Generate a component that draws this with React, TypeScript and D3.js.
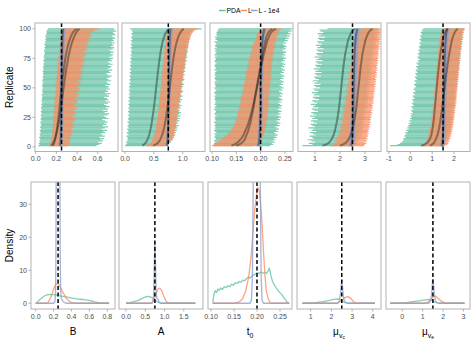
import React from 'react';
import * as d3 from 'd3';

const W = 474, H = 355;
const FONT = '"Liberation Sans", Arial, Helvetica, sans-serif';
const COL_PDA = '#66c2a5', COL_L = '#fc8d62', COL_L4 = '#8da0cb';
const METHODS = ['PDA', 'L', 'L - 1e4'];
const TRUTH = [0.25, 0.75, 0.2, 2.5, 1.5];

// ---------- Top row: per-replicate intervals (lo / median / hi), sorted by median ----------
// B (x1000)
const B_PDA_LO = [25,38,30,42,35,45,40,33,48,41,37,50,44,39,53,46,42,55,48,51,43,57,50,46,58,52,47,60,54,49,62,55,51,57,64,53,59,66,55,61,57,68,62,58,65,70,60,67,63,72,64,59,70,66,74,61,68,75,65,71,77,69,73,66,79,72,76,70,81,74,78,84,73,80,87,76,82,79,89,83,86,80,91,85,94,88,83,96,90,99,93,102,97,91,105,100,108,103,112,120];
const B_PDA_MED = [150,158,165,172,178,182,186,190,194,197,200,203,206,208,211,213,215,218,220,222,224,226,228,229,231,233,235,236,238,240,241,243,245,246,248,249,251,252,254,255,257,258,260,261,263,264,266,267,269,270,272,273,275,276,278,279,281,283,284,286,288,289,291,293,294,296,298,300,302,304,306,308,310,312,314,316,318,321,323,326,328,331,334,337,340,343,346,350,354,358,362,366,371,376,381,387,394,402,411,425];
const B_PDA_HI = [590,615,640,605,652,628,660,618,670,645,632,675,655,690,640,668,700,650,685,662,695,672,645,705,680,658,690,710,668,695,650,700,678,715,685,662,698,720,675,705,688,660,712,690,725,670,700,682,718,695,708,675,722,698,685,730,705,690,715,735,700,685,725,710,740,695,718,732,705,745,720,700,738,725,750,712,735,748,722,755,730,715,745,760,728,752,740,765,735,758,745,770,752,738,775,760,748,780,765,760];
const B_L_LO = [128,140,135,148,142,150,146,155,150,158,154,162,157,165,160,168,163,158,170,165,172,167,175,169,164,178,172,180,174,169,183,176,186,179,174,189,182,177,191,185,180,194,187,196,190,184,198,192,201,195,188,203,197,191,206,199,209,202,196,211,205,214,208,200,216,210,219,212,222,215,208,224,218,227,221,214,230,224,233,226,220,236,229,239,232,226,242,236,246,239,233,249,243,253,246,240,256,250,262,270];
const B_L_MED = [165,172,177,181,184,187,190,192,194,196,198,200,202,204,205,207,208,210,211,213,214,215,217,218,219,221,222,223,224,226,227,228,229,230,232,233,234,235,236,238,239,240,241,243,244,245,246,248,249,250,251,253,254,255,257,258,259,261,262,263,265,266,268,269,271,272,274,275,277,279,280,282,284,286,287,289,291,293,295,298,300,302,305,307,310,313,316,319,322,326,330,334,338,343,348,354,361,369,380,400];
const B_L_HI = [305,325,315,335,320,340,328,345,332,350,338,355,342,362,348,335,368,352,372,358,345,378,362,382,366,352,388,370,392,375,360,398,380,402,385,370,408,390,412,395,380,418,400,422,405,388,428,410,432,415,398,438,420,442,425,408,448,430,452,435,418,458,440,462,445,428,468,450,472,455,438,478,460,482,465,448,488,470,492,475,458,498,480,505,488,470,512,495,520,502,485,528,510,538,518,545,530,560,580,620];
const B_L4_LO = [220,221,222,224,223,225,224,226,225,227,226,227,228,226,228,227,229,228,227,229,228,230,229,228,230,229,231,230,229,231,230,232,231,230,232,231,233,232,231,233,232,231,233,232,234,232,233,231,234,233,232,234,233,235,233,232,234,236,234,233,235,234,236,233,235,237,234,236,235,234,237,236,235,238,236,237,239,236,238,240,238,237,240,239,241,238,242,240,241,243,241,244,242,245,243,246,245,247,249,251];
const B_L4_MED = [236,238,239,240,241,242,242,243,243,244,244,244,245,245,245,245,246,246,246,246,246,247,247,247,247,247,247,248,248,248,248,248,248,248,249,249,249,249,249,249,249,250,250,250,250,250,250,250,250,251,251,251,251,251,251,251,251,252,252,252,252,252,252,252,253,253,253,253,253,253,254,254,254,254,254,255,255,255,255,256,256,256,256,257,257,257,258,258,258,259,259,260,260,261,261,262,263,264,265,267];
const B_L4_HI = [255,258,257,260,259,261,260,262,261,263,262,264,263,265,263,264,266,265,264,267,266,265,267,268,266,269,267,268,270,268,267,269,270,268,271,269,270,272,270,269,271,272,270,273,271,270,272,274,272,271,273,272,274,272,273,275,273,272,274,276,274,273,275,277,274,276,275,277,276,274,277,276,278,275,277,279,276,278,280,277,279,278,281,279,280,282,279,281,283,280,282,284,281,285,283,286,285,288,290,293];

// A (x1000)
const A_PDA_LO = [0,20,35,15,48,30,55,40,25,60,45,32,65,50,38,70,55,42,68,58,45,72,60,48,75,63,50,78,66,53,80,68,56,82,70,58,85,72,60,88,75,62,90,78,65,92,80,68,95,82,70,97,84,72,100,87,75,102,90,78,105,92,80,108,95,83,110,98,86,112,100,88,115,103,91,118,106,94,120,108,96,122,110,98,125,112,100,128,115,103,130,118,106,133,121,109,136,124,112,90];
const A_PDA_MED = [300,330,350,365,378,388,396,404,411,417,423,428,433,438,442,446,450,454,458,461,465,468,471,474,477,480,483,486,489,492,494,497,500,502,505,507,510,512,514,517,519,521,524,526,528,531,533,535,537,540,542,544,546,549,551,553,555,558,560,562,565,567,569,572,574,577,579,582,584,587,589,592,595,598,600,603,606,609,612,615,619,622,626,630,634,638,642,647,652,657,663,669,676,683,691,700,711,724,740,765];
const A_PDA_HI = [700,760,730,800,770,830,790,850,810,870,840,880,820,900,860,910,880,930,870,920,890,945,905,950,880,960,915,940,970,925,950,900,965,935,980,945,920,975,955,990,930,960,1000,970,945,985,1010,960,990,975,1005,980,1020,995,965,1010,1030,985,1015,1000,1035,990,1020,1045,1005,1030,1050,1015,1040,1060,1025,1050,1070,1035,1060,1080,1045,1070,1055,1090,1065,1085,1050,1095,1075,1100,1060,1090,1110,1080,1105,1120,1090,1130,1110,1150,1125,1170,1200,1330];
const A_L_LO = [370,400,430,450,465,475,490,485,500,510,505,520,515,530,525,540,535,545,540,555,550,545,560,555,570,565,560,575,570,585,580,575,590,585,580,595,590,600,595,590,605,600,610,605,600,615,610,620,615,610,625,620,630,625,620,635,630,640,635,630,645,640,650,645,640,655,650,660,655,650,665,660,670,665,660,675,670,680,675,670,685,680,690,685,695,690,700,695,705,700,710,705,720,715,730,725,740,735,750,760];
const A_L_MED = [490,530,560,580,596,608,618,627,635,642,649,655,661,666,671,676,680,684,688,692,696,700,703,707,710,713,716,719,722,725,728,731,734,736,739,742,744,747,749,752,754,757,759,762,764,766,769,771,773,776,778,780,783,785,787,790,792,794,797,799,802,804,807,809,812,814,817,820,822,825,828,831,834,837,840,843,846,849,853,856,860,864,868,872,876,881,886,891,896,902,908,915,922,930,939,949,961,975,992,1020];
const A_L_HI = [700,740,760,780,800,815,830,825,845,855,850,865,860,875,870,885,880,890,885,900,895,890,905,900,915,910,905,920,915,930,925,920,935,930,925,940,935,950,945,940,955,950,965,960,955,970,965,980,975,970,985,980,995,990,985,1000,995,1010,1005,1000,1015,1010,1025,1020,1015,1030,1025,1040,1035,1030,1045,1040,1055,1050,1045,1060,1055,1070,1065,1060,1075,1070,1085,1080,1095,1090,1105,1100,1115,1110,1125,1120,1140,1135,1155,1150,1175,1190,1220,1260];
const A_L4_LO = [695,700,706,708,712,711,715,713,718,716,720,717,722,719,724,721,723,726,722,727,725,728,724,729,727,725,730,728,726,731,729,727,732,730,728,733,731,729,734,732,730,735,733,731,736,734,732,737,735,733,738,736,734,739,737,735,740,738,736,741,739,737,742,740,738,743,741,739,744,742,740,745,743,741,746,744,742,747,745,743,748,746,744,749,747,745,750,748,746,751,749,753,751,755,753,757,759,758,762,765];
const A_L4_MED = [722,728,732,735,737,739,740,741,742,743,744,745,746,746,747,747,748,748,749,749,750,750,750,751,751,751,752,752,752,753,753,753,754,754,754,754,755,755,755,756,756,756,756,757,757,757,757,758,758,758,758,759,759,759,759,760,760,760,760,761,761,761,762,762,762,762,763,763,763,764,764,764,765,765,765,766,766,767,767,767,768,768,769,769,770,770,771,772,772,773,774,775,776,777,778,780,782,784,787,792];
const A_L4_HI = [750,756,758,762,760,765,763,767,765,769,767,771,769,773,771,769,774,772,776,774,772,777,775,779,777,775,780,778,782,780,778,783,781,785,783,781,786,784,788,786,784,789,787,791,789,787,792,790,794,792,790,795,793,797,795,793,798,796,800,798,796,801,799,803,801,799,804,802,806,804,802,807,805,809,807,805,810,808,812,810,808,813,811,815,813,811,816,814,818,816,814,820,818,823,821,826,824,830,833,840];

// t0 (x1000)
const T_PDA_LO = [104,106,105,107,104,106,108,105,106,107,105,109,106,104,107,106,108,105,107,106,104,108,106,107,105,109,106,105,107,108,106,104,107,106,109,105,107,106,108,105,106,107,105,108,106,104,107,109,106,105,108,106,107,105,106,109,107,105,106,108,105,107,106,109,105,107,108,106,105,107,109,106,105,108,107,106,110,105,107,109,106,108,105,110,107,106,109,108,105,111,107,109,106,111,108,110,109,112,111,114];
const T_PDA_MED = [150,156,160,163,165,167,168,169,170,171,172,173,174,175,175,176,177,177,178,179,179,180,180,181,181,182,182,183,183,184,184,185,185,186,186,186,187,187,188,188,188,189,189,190,190,190,191,191,192,192,192,193,193,194,194,194,195,195,196,196,197,197,197,198,198,199,199,200,200,201,201,201,202,202,203,203,203,204,204,205,205,206,206,207,207,208,208,209,209,210,211,211,212,213,214,215,216,218,220,224];
const T_PDA_HI = [220,226,223,229,225,231,227,233,229,235,231,228,236,232,238,234,230,239,235,241,237,233,240,236,242,238,234,241,237,243,239,235,242,238,244,240,236,243,239,245,241,237,244,240,246,242,238,245,241,247,243,239,246,242,248,244,240,247,243,249,245,241,248,244,250,246,242,249,245,251,247,243,250,246,252,248,244,251,247,253,249,245,252,248,254,250,246,253,249,256,251,258,253,260,255,262,257,264,260,266];
const T_L_LO = [100,103,104,111,114,119,121,126,127,131,132,136,136,140,139,143,143,146,145,148,147,150,149,152,150,153,152,154,153,156,154,157,155,158,156,159,157,160,158,161,159,162,160,163,161,164,162,165,163,166,164,167,165,168,166,169,167,170,168,171,169,172,170,173,171,174,172,175,173,176,174,177,175,178,176,179,177,180,179,181,180,183,181,184,183,186,184,187,186,189,188,191,190,193,192,195,194,198,198,203];
const T_L_MED = [140,146,150,153,156,158,160,162,163,165,166,167,168,169,170,171,172,173,174,175,175,176,177,178,178,179,180,180,181,182,182,183,183,184,185,185,186,186,187,187,188,188,189,189,190,190,191,191,192,192,193,193,194,194,195,195,196,196,197,197,198,198,199,199,200,200,201,201,202,202,203,203,204,204,205,205,206,206,207,208,208,209,209,210,211,211,212,213,213,214,215,216,217,218,219,220,222,224,227,232];
const T_L_HI = [186,193,194,199,199,202,202,205,204,207,206,208,207,210,208,211,209,212,210,213,211,213,212,214,212,215,213,215,213,216,214,216,214,217,215,217,215,217,216,218,216,218,216,219,217,219,217,219,218,220,218,220,218,221,219,221,219,221,220,222,220,222,220,223,221,223,221,224,222,224,222,225,223,225,224,226,224,227,225,227,226,228,227,229,228,230,229,231,230,232,231,233,232,235,234,237,236,239,239,243];
const T_L4_LO = [191,192,193,193,194,193,194,194,195,194,195,194,195,195,195,196,195,196,195,196,196,195,196,196,195,196,196,197,196,196,197,196,197,196,197,196,197,196,197,197,196,197,196,197,197,196,197,196,197,197,196,197,196,197,197,196,198,197,198,197,198,197,198,197,198,197,198,197,198,198,197,198,199,198,199,198,199,198,199,198,199,198,200,199,200,199,200,199,201,200,201,200,202,201,202,203,202,204,203,205];
const T_L4_MED = [195,196,196,197,197,197,197,198,198,198,198,198,198,198,199,199,199,199,199,199,199,199,199,199,199,199,200,200,200,200,200,200,200,200,200,200,200,200,200,200,200,200,200,200,200,200,200,200,200,200,200,200,200,200,200,200,201,201,201,201,201,201,201,201,201,201,201,201,201,201,201,201,202,202,202,202,202,202,202,202,202,202,203,203,203,203,203,203,204,204,204,204,205,205,205,206,206,207,207,208];
const T_L4_HI = [199,200,200,201,201,202,201,202,202,202,203,202,203,202,203,203,204,203,204,203,204,203,204,203,204,204,204,205,204,205,204,205,204,205,204,205,204,205,204,205,204,205,204,205,204,205,204,205,204,205,204,205,204,205,204,205,205,206,205,206,205,206,205,206,205,206,205,206,205,206,205,206,206,207,206,207,206,207,206,207,206,207,207,208,207,208,207,208,208,209,208,209,209,210,209,211,210,212,211,213];

// mu_vc (x100)
const C_PDA_LO = [50,90,75,100,85,70,95,88,78,102,92,80,105,86,95,74,100,90,82,108,95,84,110,88,98,80,104,93,85,112,97,87,114,92,101,83,108,96,89,116,100,91,118,95,105,87,112,99,93,120,103,95,122,98,109,91,116,102,97,124,106,99,126,102,113,95,120,106,101,128,110,103,130,106,117,99,124,110,105,132,114,107,134,110,121,104,128,115,109,137,118,112,140,116,126,110,134,122,118,150];
const C_PDA_MED = [130,145,153,158,162,165,168,170,172,174,176,177,179,180,181,182,183,184,185,186,187,188,189,190,190,191,192,193,193,194,195,195,196,197,197,198,198,199,199,200,200,201,201,202,202,203,203,204,204,205,205,206,206,207,207,208,208,209,209,210,210,211,211,212,212,213,213,214,214,215,216,216,217,218,218,219,220,220,221,222,223,224,225,226,227,228,229,230,231,232,234,235,237,239,241,243,246,249,253,260];
const C_PDA_HI = [250,262,268,258,275,265,280,270,284,273,287,276,290,279,292,282,294,284,296,286,298,288,300,290,302,292,303,293,305,295,306,296,308,298,309,299,310,300,312,302,313,303,314,304,315,305,317,307,318,308,319,309,320,310,322,312,323,313,324,314,325,315,327,317,328,318,329,319,330,320,332,322,333,323,334,324,336,326,337,327,338,328,340,330,341,331,343,333,344,334,346,336,348,338,350,340,352,342,354,350];
const C_L_LO = [160,172,180,185,178,190,186,195,190,198,194,201,197,204,199,207,202,200,209,205,211,207,203,213,209,215,211,206,217,213,219,215,210,221,217,223,219,214,225,221,227,223,218,229,225,231,227,222,233,229,235,231,226,237,233,239,235,230,241,237,243,239,234,245,241,247,243,238,249,245,251,247,242,253,249,255,251,246,257,253,259,255,250,261,257,263,259,254,265,261,267,263,258,269,265,272,268,275,280,285];
const C_L_MED = [200,212,220,226,230,233,236,238,240,242,244,245,247,248,249,251,252,253,254,255,256,257,258,259,259,260,261,262,262,263,264,264,265,266,266,267,267,268,268,269,269,270,270,271,271,272,272,273,273,274,274,275,275,276,276,277,277,278,278,279,279,280,280,281,281,282,282,283,283,284,285,285,286,287,287,288,289,289,290,291,292,293,294,295,296,297,298,299,300,301,303,304,306,308,310,312,315,318,322,330];
const C_L_HI = [295,300,305,298,308,302,310,305,312,307,314,309,316,311,318,313,320,315,321,316,323,318,324,319,326,321,327,322,329,324,330,325,331,326,332,327,334,329,335,330,336,331,337,332,338,333,340,335,341,336,342,337,343,338,344,339,345,340,346,341,347,342,348,343,349,344,350,345,351,346,352,347,353,348,354,349,355,350,356,351,357,352,358,353,359,354,360,355,361,356,362,357,363,358,364,359,365,360,366,362];
const C_L4_LO = [234,236,238,239,238,240,239,240,241,240,241,240,242,241,240,242,241,243,241,242,243,242,244,242,243,244,242,244,243,245,243,244,245,243,245,244,246,244,245,246,244,246,245,247,245,246,247,245,247,246,248,246,247,248,246,248,247,249,247,248,249,247,249,248,250,248,249,250,248,250,249,251,249,250,251,249,251,250,252,250,251,252,250,252,251,253,251,252,253,252,253,254,253,255,254,256,256,258,258,260];
const C_L4_MED = [244,246,247,248,248,249,249,249,250,250,250,250,250,251,251,251,251,251,251,252,252,252,252,252,252,252,252,253,253,253,253,253,253,253,253,253,253,254,254,254,254,254,254,254,254,254,254,255,255,255,255,255,255,255,255,255,255,256,256,256,256,256,256,256,256,256,257,257,257,257,257,257,257,258,258,258,258,258,258,259,259,259,259,260,260,260,261,261,261,262,262,263,263,264,264,265,266,267,268,270];
const C_L4_HI = [254,256,257,258,258,259,260,259,260,261,260,261,260,262,261,262,261,263,262,263,262,264,263,264,262,264,263,265,263,264,265,263,265,264,266,264,265,266,264,266,265,267,265,266,267,265,267,266,268,266,267,268,266,268,267,269,267,268,269,267,269,268,270,268,269,270,268,270,269,271,269,270,271,269,271,270,272,270,271,272,270,272,271,273,271,272,274,272,273,275,273,275,274,276,275,277,277,279,279,282];

// mu_ve (x100)
const E_PDA_LO = [-94,-60,-48,-40,-35,-30,-33,-22,-28,-25,-18,-24,-12,-20,-8,-15,-5,-12,-2,-9,2,-6,5,-3,5,0,8,3,11,6,2,13,8,4,15,10,6,17,12,8,19,14,10,21,16,12,23,18,14,20,25,20,16,27,22,18,29,24,20,31,26,22,33,28,24,35,30,26,37,32,28,39,34,44,36,32,41,38,34,43,40,36,45,42,38,47,44,40,49,46,42,51,48,44,53,50,46,55,52,59];
const E_PDA_MED = [50,65,74,80,84,87,90,92,94,96,97,98,99,100,101,102,103,104,104,105,106,106,107,108,108,109,109,110,110,111,111,112,112,113,113,114,114,115,115,116,116,117,117,118,118,119,119,120,120,121,121,122,122,123,123,124,124,125,125,126,126,127,127,128,129,129,130,130,131,132,132,133,134,134,135,136,136,137,138,139,139,140,141,142,143,144,145,146,147,148,149,150,152,153,155,157,159,162,166,172];
const E_PDA_HI = [150,158,165,160,170,163,174,167,177,170,180,173,183,176,185,178,187,180,189,182,191,184,193,186,195,188,196,189,198,191,199,192,201,194,202,195,204,197,205,198,206,199,208,201,209,202,211,204,212,205,213,206,215,208,216,209,218,211,219,212,220,213,222,215,223,216,225,218,226,219,227,220,229,222,230,223,232,225,233,226,234,227,236,229,237,230,239,232,240,233,241,234,243,236,244,237,246,239,248,245];
const E_L_LO = [44,60,70,66,76,72,80,77,84,80,87,83,90,86,92,88,94,90,96,92,98,94,99,95,101,97,102,98,104,100,105,101,106,102,108,104,109,105,110,106,111,107,112,108,113,109,114,110,115,111,116,112,117,113,118,114,119,115,120,116,121,117,122,118,123,119,124,120,125,121,126,122,127,123,128,124,129,125,130,126,131,127,132,128,133,129,134,130,135,131,137,133,139,135,141,137,143,140,146,150];
const E_L_MED = [90,100,106,110,113,116,118,120,122,124,126,127,128,130,131,132,133,134,135,136,137,138,138,139,140,141,141,142,143,144,144,145,146,146,147,148,148,149,150,150,151,152,152,153,154,154,155,156,156,157,158,158,159,160,160,161,162,162,163,164,164,165,166,167,167,168,169,170,170,171,172,173,174,175,175,176,177,178,179,180,181,182,183,184,185,186,187,188,189,190,192,193,195,197,199,201,204,207,211,218];
const E_L_HI = [160,170,175,172,180,177,184,181,187,184,190,187,192,189,194,191,196,193,198,195,200,197,201,198,203,200,204,201,206,203,207,204,208,205,210,207,211,208,212,209,213,210,214,211,215,212,216,213,217,214,218,215,219,216,220,217,221,218,222,219,223,220,224,221,225,222,226,223,227,224,228,225,229,226,230,227,231,228,232,229,233,230,234,231,235,232,236,233,237,234,239,236,241,238,243,240,245,242,248,251];
const E_L4_LO = [134,136,138,139,138,140,139,140,141,140,141,140,142,141,140,142,141,143,141,142,143,142,144,142,143,144,142,144,143,145,143,144,145,143,145,144,146,144,145,146,144,146,145,147,145,146,147,145,147,146,148,146,147,148,146,148,147,149,147,148,149,147,149,148,150,148,149,150,148,150,149,151,149,150,151,149,151,150,152,150,151,152,150,152,151,153,151,152,153,152,153,154,153,155,154,156,156,158,158,160];
const E_L4_MED = [144,146,147,148,148,149,149,149,150,150,150,150,150,151,151,151,151,151,151,152,152,152,152,152,152,152,152,153,153,153,153,153,153,153,153,153,153,154,154,154,154,154,154,154,154,154,154,155,155,155,155,155,155,155,155,155,155,156,156,156,156,156,156,156,156,156,157,157,157,157,157,157,157,158,158,158,158,158,158,159,159,159,159,160,160,160,161,161,161,162,162,163,163,164,164,165,166,167,168,170];
const E_L4_HI = [154,156,157,158,158,159,160,159,160,161,160,161,160,162,161,162,161,163,162,163,162,164,163,164,162,164,163,165,163,164,165,163,165,164,166,164,165,166,164,166,165,167,165,166,167,165,167,166,168,166,167,168,166,168,167,169,167,168,169,167,169,168,170,168,169,170,168,170,169,171,169,170,171,169,171,170,172,170,171,172,170,172,171,173,171,172,174,172,173,175,173,175,174,176,175,177,177,179,179,182];

// ---------- Bottom row: pooled posterior densities [x, density] ----------
const DENS_B_PDA = [[0,0],[0.02,0.4],[0.05,1.2],[0.08,1.9],[0.11,2.4],[0.14,2.6],[0.17,2.7],[0.2,2.6],[0.23,2.5],[0.26,2.3],[0.3,2.1],[0.34,1.9],[0.38,1.7],[0.42,1.5],[0.46,1.3],[0.5,1.2],[0.54,1.1],[0.58,0.95],[0.62,0.7],[0.66,0.4],[0.7,0.15],[0.74,0.04],[0.78,0],[0.82,0]];
const DENS_B_L = [[0,0],[0.12,0],[0.14,0.3],[0.17,1.8],[0.2,4.2],[0.22,5.5],[0.24,6],[0.26,5.6],[0.28,4.6],[0.31,3],[0.34,1.6],[0.37,0.7],[0.4,0.2],[0.44,0],[0.82,0]];
const DENS_B_L4 = [[0,0],[0.2,0],[0.215,0.5],[0.222,3],[0.226,15],[0.229,40],[0.235,70],[0.25,80],[0.265,70],[0.27,40],[0.274,15],[0.279,4],[0.285,1.5],[0.3,0.8],[0.32,0.2],[0.34,0],[0.82,0]];
const DENS_A_PDA = [[0,0],[0.1,0.2],[0.2,0.45],[0.3,0.8],[0.4,1.3],[0.48,1.8],[0.55,2.1],[0.62,2],[0.68,1.6],[0.74,1],[0.8,0.5],[0.86,0.2],[0.92,0.05],[1,0],[1.8,0]];
const DENS_A_L = [[0,0],[0.62,0],[0.68,0.3],[0.74,1.5],[0.79,3.2],[0.84,4.4],[0.88,4.6],[0.93,3.8],[0.98,2.2],[1.03,0.8],[1.08,0.2],[1.13,0],[1.8,0]];
const DENS_A_L4 = [[0,0],[0.68,0],[0.7,0.5],[0.72,3],[0.735,12],[0.75,18.5],[0.765,12],[0.78,4],[0.8,1.5],[0.83,1.2],[0.86,0.4],[0.9,0],[1.8,0]];
const DENS_T_PDA = [[0.104,0],[0.106,2.5],[0.109,3.8],[0.112,3.2],[0.115,4.3],[0.118,3.9],[0.121,4.6],[0.125,4.2],[0.129,5],[0.133,4.7],[0.137,5.3],[0.141,5],[0.145,5.8],[0.149,5.5],[0.153,6.2],[0.157,6],[0.161,6.6],[0.165,6.3],[0.169,7],[0.173,6.8],[0.177,7.4],[0.181,7.9],[0.185,7.6],[0.189,8.3],[0.193,8.6],[0.197,8.9],[0.201,9.3],[0.205,9],[0.209,9.5],[0.213,9.1],[0.217,9.4],[0.221,9],[0.224,9.8],[0.227,10.6],[0.23,8.5],[0.234,6.5],[0.238,5.5],[0.242,4.6],[0.246,3.8],[0.25,3.2],[0.254,2.6],[0.258,1.8],[0.262,1],[0.266,0.3],[0.27,0]];
const DENS_T_L = [[0.104,0],[0.15,0],[0.16,0.3],[0.168,1.2],[0.175,3.5],[0.182,8],[0.187,14],[0.191,21],[0.195,28],[0.199,33],[0.202,35],[0.205,34],[0.208,30],[0.211,24],[0.214,16],[0.217,9],[0.22,4],[0.224,1.5],[0.228,0.4],[0.232,0],[0.27,0]];
const DENS_T_L4 = [[0.104,0],[0.185,0],[0.188,1],[0.19,8],[0.192,40],[0.194,90],[0.197,115],[0.2,120],[0.203,112],[0.205,85],[0.207,40],[0.209,8],[0.211,1],[0.214,0],[0.27,0]];
const DENS_C_PDA = [[0.6,0],[1,0.05],[1.3,0.25],[1.6,0.5],[1.85,0.8],[2.05,1.1],[2.25,1.3],[2.4,1.2],[2.5,0.8],[2.6,0.35],[2.7,0.1],[2.8,0],[4.1,0]];
const DENS_C_L = [[0.6,0],[2.2,0],[2.35,0.2],[2.5,0.9],[2.65,1.7],[2.8,2],[2.95,1.4],[3.05,0.6],[3.15,0.15],[3.25,0],[4.1,0]];
const DENS_C_L4 = [[0.6,0],[2.3,0],[2.38,0.6],[2.44,3],[2.48,6],[2.5,6.8],[2.53,5.5],[2.57,2.5],[2.62,0.8],[2.7,0.2],[2.8,0],[4.1,0]];
const DENS_E_PDA = [[-0.6,0],[-0.2,0.05],[0.2,0.2],[0.5,0.45],[0.8,0.7],[1.05,0.95],[1.25,1.15],[1.4,1.1],[1.5,0.7],[1.6,0.3],[1.7,0.08],[1.8,0],[3.05,0]];
const DENS_E_L = [[-0.6,0],[1.1,0],[1.25,0.3],[1.4,1.2],[1.52,2],[1.62,2.2],[1.75,1.5],[1.9,0.7],[2.05,0.2],[2.2,0],[3.05,0]];
const DENS_E_L4 = [[-0.6,0],[1.3,0],[1.38,0.6],[1.44,3],[1.48,6.5],[1.5,7.2],[1.53,5.8],[1.57,2.6],[1.62,0.8],[1.7,0.2],[1.8,0],[3.05,0]];

// ---------- ticks ----------
const TOP_Y_TICKS = [0, 25, 50, 75, 100];
const BOT_Y_TICKS = [0, 10, 20, 30];
const TICKS_TOP = [[0, 0.2, 0.4, 0.6], [0, 0.5, 1.0], [0.1, 0.15, 0.2, 0.25], [1, 2, 3], [-1, 0, 1, 2]];
const TICKS_BOT = [[0, 0.2, 0.4, 0.6, 0.8], [0, 0.5, 1.0, 1.5], [0.1, 0.15, 0.2, 0.25], [1, 2, 3, 4], [0, 1, 2, 3]];
const REPLICATES = d3.range(1, 101);

// ---------- layout ----------
const TOP_LEFTS = [35, 122, 210, 298, 387];
const TOP_W = 83;
const BOT_LEFTS = [31, 119, 208, 297, 386];
const BOT_W = 84;
const TOP_Y0 = 23, TOP_Y1 = 151.5;
const BOT_Y0 = 182, BOT_Y1 = 309;
const TOP_DOMS = [[-0.007, 0.797], [-0.052, 1.386], [0.0958, 0.2667], [0.32, 3.64], [-1.083, 2.742]];
const BOT_DOMS = [[-0.0525, 0.886], [-0.182, 2.0], [0.0935, 0.2761], [0.338, 4.396], [-0.799, 3.319]];
const FMTS = [(v) => v.toFixed(1), (v) => v.toFixed(1), (v) => v.toFixed(2), (v) => String(v), (v) => String(v)];

const PARAMS = [
  { k: 1000, ci: [[B_PDA_LO, B_PDA_MED, B_PDA_HI], [B_L_LO, B_L_MED, B_L_HI], [B_L4_LO, B_L4_MED, B_L4_HI]], dens: [DENS_B_PDA, DENS_B_L, DENS_B_L4] },
  { k: 1000, ci: [[A_PDA_LO, A_PDA_MED, A_PDA_HI], [A_L_LO, A_L_MED, A_L_HI], [A_L4_LO, A_L4_MED, A_L4_HI]], dens: [DENS_A_PDA, DENS_A_L, DENS_A_L4] },
  { k: 1000, ci: [[T_PDA_LO, T_PDA_MED, T_PDA_HI], [T_L_LO, T_L_MED, T_L_HI], [T_L4_LO, T_L4_MED, T_L4_HI]], dens: [DENS_T_PDA, DENS_T_L, DENS_T_L4] },
  { k: 100, ci: [[C_PDA_LO, C_PDA_MED, C_PDA_HI], [C_L_LO, C_L_MED, C_L_HI], [C_L4_LO, C_L4_MED, C_L4_HI]], dens: [DENS_C_PDA, DENS_C_L, DENS_C_L4] },
  { k: 100, ci: [[E_PDA_LO, E_PDA_MED, E_PDA_HI], [E_L_LO, E_L_MED, E_L_HI], [E_L4_LO, E_L4_MED, E_L4_HI]], dens: [DENS_E_PDA, DENS_E_L, DENS_E_L4] },
];
const COLS = [COL_PDA, COL_L, COL_L4];
const CI_OPAC = [0.85, 0.85, 0.9];

const yTop = d3.scaleLinear().domain([-3.95, 104.95]).range([TOP_Y1, TOP_Y0]);
const yBot = d3.scaleLinear().domain([-1.75, 36.75]).range([BOT_Y1, BOT_Y0]);

const TICK_COL = '#9e9e9e';
const LAB_COL = '#4d4d4d';
const FRAME_COL = '#b3b3b3';

function XAxis({ x, ticks, y, fmt }) {
  return (
    <g>
      {ticks.map((t, i) => (
        <g key={i}>
          <line x1={x(t)} x2={x(t)} y1={y} y2={y + 2.5} stroke={TICK_COL} strokeWidth={0.8} />
          <text x={x(t)} y={y + 9.5} textAnchor="middle" fontSize={7} fill={LAB_COL}>{fmt(t)}</text>
        </g>
      ))}
    </g>
  );
}

function YAxis({ y, ticks, x }) {
  return (
    <g>
      {ticks.map((t, i) => (
        <g key={i}>
          <line x1={x - 2.5} x2={x} y1={y(t)} y2={y(t)} stroke={TICK_COL} strokeWidth={0.8} />
          <text x={x - 4} y={y(t)} dy="0.35em" textAnchor="end" fontSize={7} fill={LAB_COL}>{t}</text>
        </g>
      ))}
    </g>
  );
}

function TopPanel({ idx }) {
  const p = PARAMS[idx];
  const left = TOP_LEFTS[idx];
  const x = d3.scaleLinear().domain(TOP_DOMS[idx]).range([left, left + TOP_W]);
  const id = `clipTop${idx}`;
  const medLine = d3.line().x((v) => x(v / p.k)).y((_, i) => yTop(REPLICATES[i]));
  return (
    <g>
      <clipPath id={id}><rect x={left} y={TOP_Y0} width={TOP_W} height={TOP_Y1 - TOP_Y0} /></clipPath>
      <g clipPath={`url(#${id})`}>
        {p.ci.map(([lo, , hi], m) => (
          <g key={m} stroke={COLS[m]} strokeOpacity={CI_OPAC[m]} strokeWidth={1.2}>
            {REPLICATES.map((r, i) => (
              <line key={i} x1={x(lo[i] / p.k)} x2={x(hi[i] / p.k)} y1={yTop(r)} y2={yTop(r)} />
            ))}
          </g>
        ))}
        {p.ci.map(([, med], m) => (
          <path key={m} d={medLine(med)} fill="none" stroke="#1a1a1a" strokeOpacity={0.42} strokeWidth={2} strokeLinejoin="round" />
        ))}
        <line x1={x(TRUTH[idx])} x2={x(TRUTH[idx])} y1={TOP_Y0} y2={TOP_Y1} stroke="#000" strokeWidth={1.5} strokeDasharray="4 2.5" />
      </g>
      <rect x={left} y={TOP_Y0} width={TOP_W} height={TOP_Y1 - TOP_Y0} fill="none" stroke={FRAME_COL} strokeWidth={1} />
      <XAxis x={x} ticks={TICKS_TOP[idx]} y={TOP_Y1} fmt={FMTS[idx]} />
      {idx === 0 && <YAxis y={yTop} ticks={TOP_Y_TICKS} x={left} />}
    </g>
  );
}

function BottomPanel({ idx }) {
  const p = PARAMS[idx];
  const left = BOT_LEFTS[idx];
  const x = d3.scaleLinear().domain(BOT_DOMS[idx]).range([left, left + BOT_W]);
  const id = `clipBot${idx}`;
  const line = d3.line().x((d) => x(d[0])).y((d) => yBot(d[1]));
  return (
    <g>
      <clipPath id={id}><rect x={left} y={BOT_Y0} width={BOT_W} height={BOT_Y1 - BOT_Y0} /></clipPath>
      <g clipPath={`url(#${id})`}>
        {p.dens.map((d, m) => (
          <path key={m} d={line(d)} fill="none" stroke={COLS[m]} strokeOpacity={0.8} strokeWidth={1.3} strokeLinejoin="round" />
        ))}
        <line x1={x(TRUTH[idx])} x2={x(TRUTH[idx])} y1={BOT_Y0} y2={BOT_Y1} stroke="#000" strokeWidth={1.5} strokeDasharray="4 2.5" />
      </g>
      <rect x={left} y={BOT_Y0} width={BOT_W} height={BOT_Y1 - BOT_Y0} fill="none" stroke={FRAME_COL} strokeWidth={1} />
      <XAxis x={x} ticks={TICKS_BOT[idx]} y={BOT_Y1} fmt={FMTS[idx]} />
      {idx === 0 && <YAxis y={yBot} ticks={BOT_Y_TICKS} x={left} />}
      <XTitle idx={idx} cx={left + BOT_W / 2} />
    </g>
  );
}

function XTitle({ idx, cx }) {
  const y = 335;
  const common = { x: cx, y, textAnchor: 'middle', fontSize: 10, fill: '#000' } as any;
  if (idx === 0) return <text {...common}>B</text>;
  if (idx === 1) return <text {...common}>A</text>;
  if (idx === 2)
    return (
      <text {...common}>t<tspan fontSize={7} dy={2.5}>0</tspan></text>
    );
  const sub = idx === 3 ? 'c' : 'e';
  return (
    <text {...common}>μ<tspan fontSize={7} dy={2.5}>v</tspan><tspan fontSize={5} dy={1.5}>{sub}</tspan></text>
  );
}

function Legend() {
  const items = [
    { x: 219, w: 6.5, tx: 226.5 },
    { x: 240.5, w: 6.5, tx: 248 },
    { x: 251, w: 6.5, tx: 258.5 },
  ];
  return (
    <g>
      {items.map((it, i) => (
        <g key={i}>
          <line x1={it.x} x2={it.x + it.w} y1={10.5} y2={10.5} stroke={COLS[i]} strokeWidth={1.5} />
          <text x={it.tx} y={10.5} dy="0.35em" fontSize={6.8} fill="#000">{METHODS[i]}</text>
        </g>
      ))}
    </g>
  );
}

export default function App() {
  return (
    <svg width={W} height={H} style={{ position: 'absolute', left: 0, top: 0, background: '#fff' }} fontFamily={FONT}>
      <rect x={0} y={0} width={W} height={H} fill="#fff" />
      <Legend />
      {PARAMS.map((_, i) => <TopPanel key={`t${i}`} idx={i} />)}
      {PARAMS.map((_, i) => <BottomPanel key={`b${i}`} idx={i} />)}
      <text transform={`translate(13,${(TOP_Y0 + TOP_Y1) / 2}) rotate(-90)`} textAnchor="middle" fontSize={10} fill="#000">Replicate</text>
      <text transform={`translate(13,${(BOT_Y0 + BOT_Y1) / 2}) rotate(-90)`} textAnchor="middle" fontSize={10} fill="#000">Density</text>
    </svg>
  );
}
